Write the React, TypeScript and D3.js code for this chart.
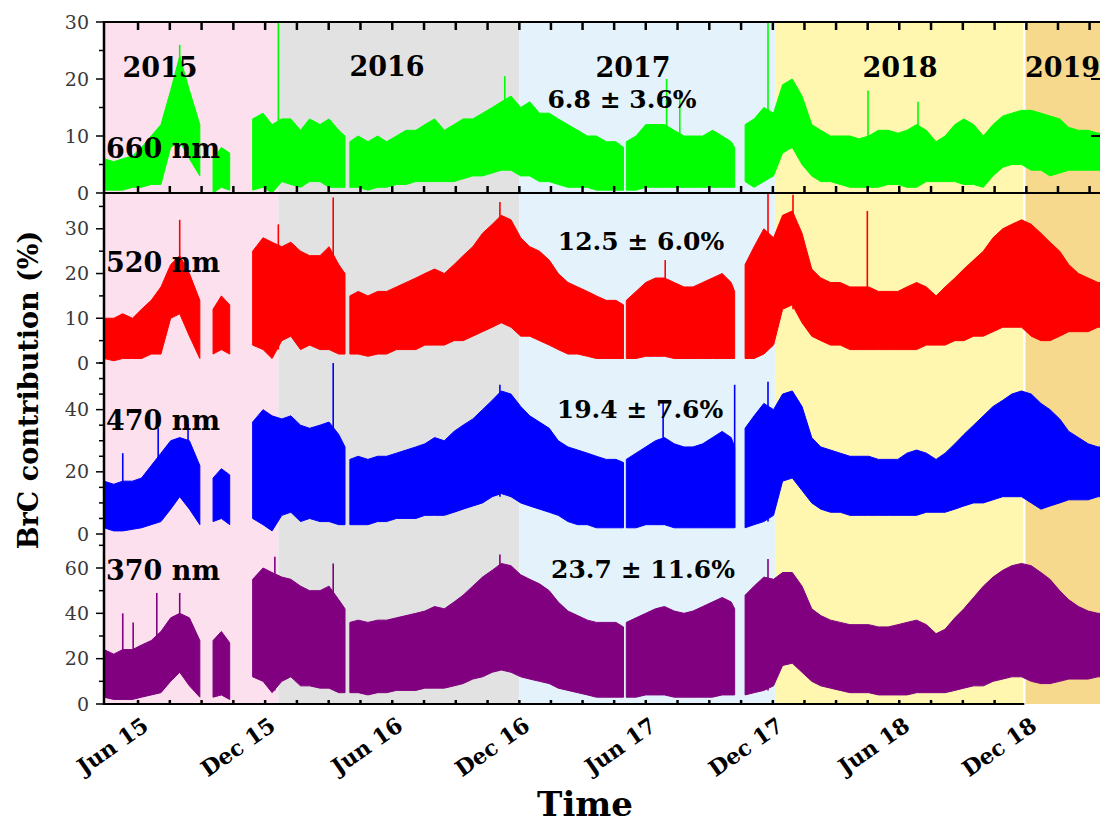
import React from 'react';
import * as d3 from 'd3';

// sample dates shared by the four wavelengths (gap markers hold null in every series)
const sampleDates = [
  '2015-04-13', '2015-04-27', '2015-05-10', '2015-05-24', '2015-06-06', '2015-06-20', '2015-07-04', '2015-07-18', '2015-07-31', '2015-08-14', '2015-08-29',
  '2015-09-08',
  '2015-09-17', '2015-09-29', '2015-10-11',
  '2015-10-25',
  '2015-11-13', '2015-11-28', '2015-12-11', '2015-12-25', '2016-01-07', '2016-01-21', '2016-02-03', '2016-02-18', '2016-03-02', '2016-03-16', '2016-03-25',
  '2016-03-28',
  '2016-04-01', '2016-04-13', '2016-04-27', '2016-05-11', '2016-05-24', '2016-06-07', '2016-06-21', '2016-07-05', '2016-07-18', '2016-08-01',
  '2016-08-15', '2016-08-29', '2016-09-11', '2016-09-25', '2016-10-09', '2016-10-23', '2016-11-05', '2016-11-19', '2016-12-03', '2016-12-16',
  '2016-12-30', '2017-01-13', '2017-01-26', '2017-02-09', '2017-02-23', '2017-03-09', '2017-03-22', '2017-04-05', '2017-04-19', '2017-04-30',
  '2017-05-02',
  '2017-05-04', '2017-05-18', '2017-06-01', '2017-06-15', '2017-06-28', '2017-07-12', '2017-07-26', '2017-08-08', '2017-08-22', '2017-09-05',
  '2017-09-19', '2017-10-02', '2017-10-07',
  '2017-10-14',
  '2017-10-22', '2017-11-04', '2017-11-18', '2017-12-02', '2017-12-15', '2017-12-29', '2018-01-12', '2018-01-26', '2018-02-08', '2018-02-22',
  '2018-03-08', '2018-03-22', '2018-04-04', '2018-04-18', '2018-05-02', '2018-05-16', '2018-05-30', '2018-06-12', '2018-06-26', '2018-07-10',
  '2018-07-24', '2018-08-06', '2018-08-20', '2018-09-02', '2018-09-16', '2018-09-30', '2018-10-14', '2018-10-28', '2018-11-10', '2018-11-24',
  '2018-12-08', '2018-12-22', '2019-01-04', '2019-01-18', '2019-01-31', '2019-02-14', '2019-02-28', '2019-03-14', '2019-03-28',
];

// 660 nm, lower / upper envelope (%)
const lo660 = [
  0.5, 0.5, 0.5, 1, 1, 1.5, 1.5, 8, 9, 6, 3, null,
  0, 1, 0.5, null,
  0.5, 1, 0, 2, 1.5, 1, 2, 2, 1, 1, 1, null,
  1, 1, 0.5, 1, 1, 1.5, 1.5, 2, 2, 2, 2, 2, 2.5, 3, 3, 3.5, 4, 4, 3, 3, 2, 2, 1.5, 1, 1, 1, 0.5, 0.5, 0.5, 0.5, null,
  0.5, 0.5, 1, 1, 1, 1, 1, 1, 1, 1, 1, 1, 1, null,
  2, 1, 2, 3, 7, 8, 5, 3, 2, 2, 1.5, 1, 1, 1, 1, 1.5, 1.5, 1, 1, 2, 2, 2, 2, 1.5, 1.5, 1, 3, 4.5, 5, 5, 4, 4, 3, 3.5, 4, 4, 4, 4, 4,
];
const hi660 = [
  6, 5.5, 6, 6.5, 8, 10, 12, 18, 24, 18, 12, null,
  6, 8, 7, null,
  13, 14, 12, 13, 13, 11, 13, 12, 13, 11, 10, null,
  9, 10, 9, 10, 9, 10, 11, 11, 12, 13, 11, 12, 13, 13, 14, 15, 16, 17, 15, 16, 14, 14, 13, 12, 11, 10, 10, 9, 9, 8, null,
  9, 10, 12, 12, 12, 11, 10, 10, 10, 11, 10, 9, 8, null,
  12, 13, 15, 14, 19, 20, 17, 12, 11, 10, 10, 10, 9.5, 10, 11, 11, 10.5, 11, 12, 11, 9, 10, 12, 13, 12, 10, 12, 13.5, 14, 14.5, 14.5, 14, 13.5, 13, 11.5, 11, 11, 10.5, 10.5,
];

// 520 nm
const lo520 = [
  1, 0.5, 1, 1, 1, 2, 2, 10, 11, 6, 1, null,
  2, 3, 2, null,
  4, 3, 1, 5, 6, 3, 4, 3, 3, 2, 2, null,
  2, 2, 1.5, 2, 2, 3, 3, 3, 4, 4, 4, 5, 5, 6, 7, 8, 9, 8, 6, 6, 5, 4, 3, 2, 2, 1.5, 1, 1, 1, 1, null,
  1, 1, 1.5, 1.5, 1.5, 1, 1, 1, 1, 1, 1, 1, 1, null,
  1, 1, 2, 4, 12, 13, 9, 6, 5, 4, 4, 3, 3, 3, 3, 3, 3, 3, 3, 4, 4, 4, 5, 5, 6, 6, 7, 8, 8, 8, 6, 5, 5, 6, 7, 7, 7, 8, 8,
];
const hi520 = [
  10, 10, 11, 10, 12, 14, 17, 22, 24, 20, 14, null,
  12, 15, 13, null,
  25, 28, 27, 26, 27, 25, 24, 24, 26, 22, 20, null,
  15, 16, 15, 16, 16, 17, 18, 19, 20, 21, 20, 22, 24, 26, 29, 31, 33, 32, 28, 26, 25, 23, 20, 18, 17, 16, 15, 14, 14, 13, null,
  14, 16, 18, 19, 19, 18, 17, 17, 18, 19, 20, 18, 16, null,
  22, 26, 30, 28, 33, 34, 29, 21, 19, 18, 18, 17, 17, 17, 16, 16, 16, 17, 18, 17, 15, 17, 19, 21, 23, 25, 28, 30, 31, 32, 31, 29, 27, 25, 22, 20, 19, 18, 18,
];

// 470 nm
const lo470 = [
  2, 1, 1, 1.5, 2, 3, 4, 8, 12, 8, 3, null,
  4, 5, 3, null,
  5, 3, 1, 6, 7, 4, 5, 4, 4, 3, 3, null,
  3, 3, 3, 4, 4, 5, 5, 5, 6, 6, 6, 7, 8, 9, 10, 12, 13, 12, 10, 9, 8, 7, 6, 4, 3, 3, 2, 2, 2, 2, null,
  2, 2, 3, 3, 3, 2, 2, 2, 2, 2, 2, 2, 2, null,
  2, 3, 4, 6, 17, 18, 14, 10, 8, 7, 7, 6, 6, 6, 6, 6, 6, 6, 6, 7, 7, 7, 8, 9, 10, 10, 11, 12, 12, 12, 10, 8, 9, 10, 11, 11, 11, 12, 12,
];
const hi470 = [
  17, 16, 17, 17, 18, 22, 26, 30, 31, 30, 22, null,
  18, 21, 19, null,
  36, 40, 38, 37, 38, 35, 34, 35, 36, 32, 28, null,
  24, 25, 24, 25, 25, 26, 27, 28, 29, 31, 30, 33, 35, 37, 40, 43, 46, 45, 41, 38, 36, 34, 30, 28, 27, 26, 25, 24, 24, 23, null,
  24, 26, 28, 30, 31, 29, 28, 28, 29, 31, 33, 31, 28, null,
  34, 38, 42, 40, 45, 46, 41, 31, 28, 27, 26, 25, 25, 25, 24, 24, 24, 26, 27, 26, 24, 26, 29, 32, 35, 38, 41, 43, 45, 46, 45, 42, 40, 37, 33, 31, 29, 28, 28,
];

// 370 nm
const lo370 = [
  3, 2, 2, 2, 3, 4, 5, 10, 14, 8, 3, null,
  3, 4, 2, null,
  12, 10, 5, 10, 12, 8, 8, 7, 7, 5, 5, null,
  5, 5, 4, 5, 5, 6, 6, 6, 7, 7, 7, 8, 9, 11, 12, 14, 15, 14, 12, 11, 10, 9, 7, 6, 5, 4, 3, 3, 3, 3, null,
  3, 3, 4, 4, 4, 3, 3, 3, 3, 3, 4, 4, 4, null,
  4, 5, 6, 8, 17, 18, 14, 10, 8, 7, 6, 5, 5, 5, 4, 4, 4, 4, 5, 5, 5, 5, 6, 7, 8, 8, 10, 11, 12, 12, 10, 9, 9, 10, 11, 11, 11, 12, 12,
];
const hi370 = [
  24, 22, 24, 24, 26, 28, 32, 38, 40, 38, 28, null,
  28, 32, 27, null,
  55, 60, 58, 56, 55, 52, 50, 50, 52, 46, 42, null,
  36, 37, 36, 37, 37, 38, 39, 40, 41, 43, 42, 45, 48, 52, 56, 59, 62, 61, 57, 55, 53, 50, 45, 41, 39, 37, 36, 36, 36, 34, null,
  36, 38, 40, 42, 43, 41, 40, 41, 43, 45, 47, 45, 42, null,
  48, 52, 56, 55, 58, 58, 52, 42, 39, 37, 36, 35, 35, 35, 34, 34, 35, 36, 37, 35, 31, 33, 38, 42, 47, 52, 56, 59, 61, 62, 61, 58, 55, 50, 46, 43, 41, 40, 40,
];

// single tall spikes: [date, from, to]
const spikes660 = [['2015-07-31', 10, 26], ['2015-12-20', 2, 30], ['2016-11-10', 5, 20.5], ['2017-07-01', 2, 20], ['2017-07-20', 2, 18], ['2017-11-24', 3, 30], ['2018-04-17', 2, 18], ['2018-06-28', 2, 16]];
const spikes520 = [['2015-07-31', 12, 32], ['2015-12-20', 3, 31], ['2016-03-08', 4, 37], ['2016-11-03', 9, 36], ['2017-06-29', 2, 23], ['2017-11-24', 3, 38], ['2017-12-30', 12, 37.6], ['2018-04-16', 3, 34]];
const spikes470 = [['2015-05-10', 2, 26], ['2015-06-30', 4, 34], ['2015-08-12', 10, 35.5], ['2016-03-08', 4, 55], ['2016-11-03', 12, 48], ['2017-06-26', 3, 43], ['2017-10-07', 2, 48], ['2017-11-24', 4, 49]];
const spikes370 = [['2015-05-10', 3, 40], ['2015-05-25', 3, 36], ['2015-06-28', 5, 49], ['2015-07-31', 14, 49], ['2015-12-15', 6, 65], ['2016-03-08', 7, 62], ['2016-11-03', 15, 66], ['2017-11-24', 6, 64]];

const wavelengths = ['660 nm', '520 nm', '470 nm', '370 nm'];
const stats = ['6.8 ± 3.6%', '12.5 ± 6.0%', '19.4 ± 7.6%', '23.7 ± 11.6%'];
const yMax = [30, 38, 55, 75];
const yMajor = [[0, 10, 20, 30], [0, 10, 20, 30], [0, 20, 40], [0, 20, 40, 60]];
const yMinor = [[5, 15, 25], [5, 15, 25, 35], [5, 10, 15, 25, 30, 35, 45, 50, 55], [10, 30, 50, 70]];

const yearNames = ['2015', '2016', '2017', '2018', '2019'];
const yearStarts = ['2015-04-13', '2015-12-20', '2016-12-01', '2017-12-04', '2018-11-28'];

const parse = d3.utcParse('%Y-%m-%d');
const FONT = "'DejaVu Serif', 'Liberation Serif', serif";

export default function App() {
  const W = 1100, H = 829;
  const left = 104, right = 1100;
  const x = d3.scaleUtc().domain([parse('2015-04-13'), parse('2019-03-17')]).range([left, right]);
  const dates = sampleDates.map(parse);

  const bandFill = ['#fde0ee', '#e2e2e2', '#e4f3fb', '#fff6b0', '#f6d98c'];
  const colors = ['#00ff00', '#ff0000', '#0000ff', '#800080'];
  const bounds = [[22, 193], [193, 363], [363, 534], [534, 704]];
  const nameY = [158, 272, 430, 580];
  const statPos = [[622, 108], [641, 250], [640, 418], [643, 578]];
  const yearPos = [[160, 77, 'middle'], [387, 76, 'middle'], [633, 77, 'middle'], [900, 77, 'middle'], [1025, 77, 'start']];

  const series = [[lo660, hi660, spikes660], [lo520, hi520, spikes520], [lo470, hi470, spikes470], [lo370, hi370, spikes370]];

  // x ticks: labelled every 6 months (Jun / Dec), 3 unlabelled between
  const majors = d3.utcMonths(parse('2015-06-01'), parse('2019-07-01'), 6);
  const tickX = [];
  majors.forEach((m, i) => {
    if (i === majors.length - 1) return;
    const a = x(m), b = x(majors[i + 1]);
    for (let k = 0; k < 4; k++) tickX.push(a + (k * (b - a)) / 4);
  });
  const fmt = d3.utcFormat('%b %y');

  const bandEdges = yearStarts.map(s => x(parse(s)));

  return (
    <svg width={W} height={H} style={{ position: 'absolute', left: 0, top: 0, background: '#fff' }} fontFamily={FONT}>
      <defs>
        {bounds.map((b, i) => (
          <clipPath id={`clip${i}`} key={i}>
            <rect x={left} y={b[0]} width={right - left} height={b[1] - b[0]} />
          </clipPath>
        ))}
      </defs>

      {/* year shading */}
      {bandEdges.map((x0, i) => {
        const x1 = i < bandEdges.length - 1 ? bandEdges[i + 1] : right;
        return <rect key={i} x={x0} y={22} width={x1 - x0} height={704 - 22} fill={bandFill[i]} />;
      })}
      <line x1={bandEdges[4]} x2={bandEdges[4]} y1={22} y2={704} stroke="#fff" strokeWidth={2.5} />

      {/* data */}
      {series.map(([lo, hi, spikes], p) => {
        const y = d3.scaleLinear().domain([0, yMax[p]]).range([bounds[p][1], bounds[p][0]]);
        const area = d3.area<number>()
          .defined(i => lo[i] != null && hi[i] != null)
          .x(i => x(dates[i]))
          .y0(i => y(lo[i]))
          .y1(i => y(hi[i]));
        return (
          <g key={p} clipPath={`url(#clip${p})`}>
            <path d={area(d3.range(dates.length)) || ''} fill={colors[p]} stroke={colors[p]} strokeWidth={1} />
            {spikes.map((s, k) => {
              const sx = x(parse(s[0] as string));
              return <line key={k} x1={sx} x2={sx} y1={y(s[1] as number)} y2={y(s[2] as number)} stroke={colors[p]} strokeWidth={1.6} />;
            })}
          </g>
        );
      })}

      {/* frame lines */}
      <line x1={left} x2={right} y1={22} y2={22} stroke="#000" strokeWidth={2} />
      <line x1={left} x2={right} y1={193} y2={193} stroke="#000" strokeWidth={2} />
      <line x1={left} x2={bandEdges[4]} y1={704} y2={704} stroke="#000" strokeWidth={2} />
      <line x1={left} x2={left} y1={21} y2={705} stroke="#000" strokeWidth={2.5} />
      {tickX.map((tx, i) => (
        <g key={i}>
          <line x1={tx} x2={tx} y1={22} y2={30} stroke="#000" strokeWidth={2.5} />
          <line x1={tx} x2={tx} y1={193} y2={186} stroke="#000" strokeWidth={2.5} />
          {tx < bandEdges[4] && <line x1={tx} x2={tx} y1={704} y2={700} stroke="#000" strokeWidth={2.5} />}
        </g>
      ))}
      {[10, 20].map(v => {
        const yy = d3.scaleLinear().domain([0, yMax[0]]).range([bounds[0][1], bounds[0][0]])(v);
        return <line key={v} x1={1091} x2={1100} y1={yy} y2={yy} stroke="#000" strokeWidth={2} />;
      })}

      {/* y axes */}
      {bounds.map((b, p) => {
        const y = d3.scaleLinear().domain([0, yMax[p]]).range([b[1], b[0]]);
        return (
          <g key={p}>
            {yMinor[p].map(v => (
              <line key={'m' + v} x1={99} x2={left} y1={y(v)} y2={y(v)} stroke="#000" strokeWidth={1.5} />
            ))}
            {yMajor[p].map(v => (
              <g key={'M' + v}>
                <line x1={96} x2={left} y1={y(v)} y2={y(v)} stroke="#000" strokeWidth={1.5} />
                <text x={89} y={y(v)} dy="0.35em" textAnchor="end" fontSize={19} fill="#3a3a3a">{v}</text>
              </g>
            ))}
          </g>
        );
      })}

      {/* x tick labels */}
      {majors.slice(0, -1).map((m, i) => (
        <text key={i} transform={`translate(${x(m) + 12},729) rotate(-35)`} textAnchor="end" fontSize={22} fontWeight="bold">{fmt(m)}</text>
      ))}

      {/* annotations */}
      {yearNames.map((t, i) => (
        <text key={t} x={yearPos[i][0] as number} y={yearPos[i][1] as number} textAnchor={yearPos[i][2] as string} fontSize={27} fontWeight="bold">{t}</text>
      ))}
      {wavelengths.map((t, i) => (
        <text key={t} x={106} y={nameY[i]} fontSize={27} fontWeight="bold">{t}</text>
      ))}
      {stats.map((t, i) => (
        <text key={t} x={statPos[i][0]} y={statPos[i][1]} textAnchor="middle" fontSize={25} fontWeight="bold">{t}</text>
      ))}

      <text transform="translate(38,390) rotate(-90)" textAnchor="middle" fontSize={27} fontWeight="bold">BrC contribution (%)</text>
      <text x={585} y={816} textAnchor="middle" fontSize={34} fontWeight="bold">Time</text>
    </svg>
  );
}
